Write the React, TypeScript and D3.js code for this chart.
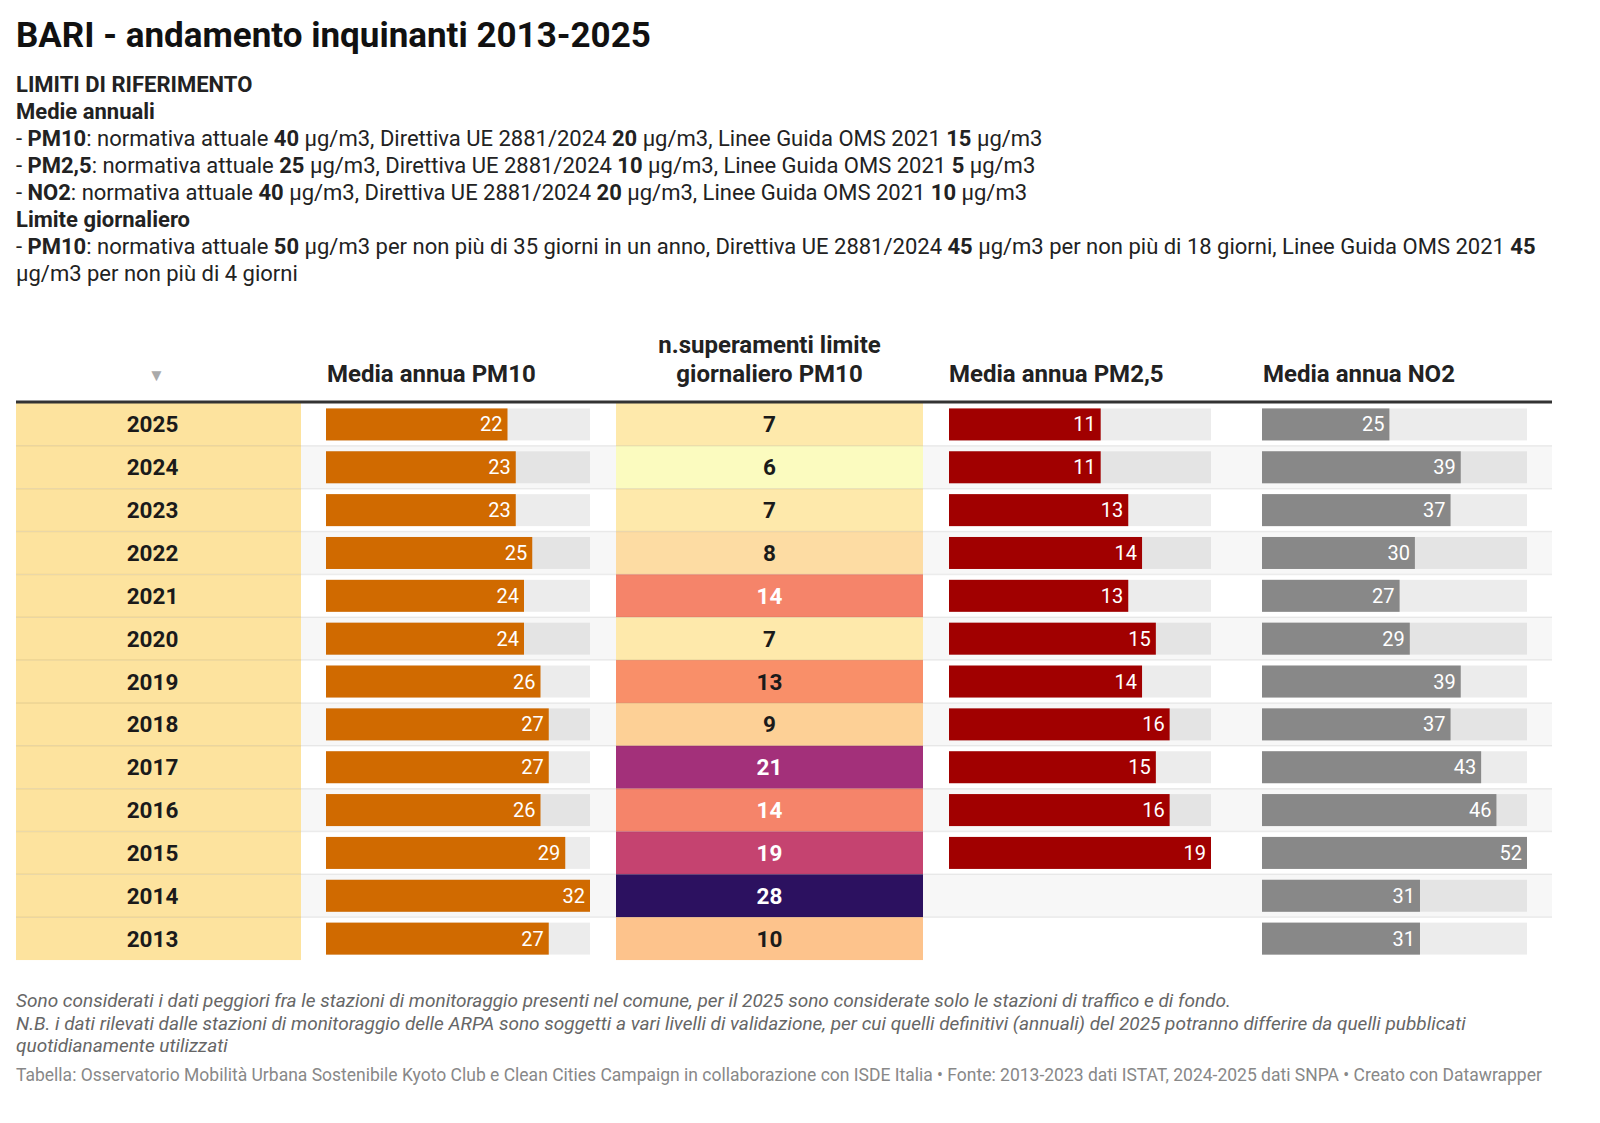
import React from "react";
import * as d3 from "d3";

const years = ["2025","2024","2023","2022","2021","2020","2019","2018","2017","2016","2015","2014","2013"];
const pm10 = [22,23,23,25,24,24,26,27,27,26,29,32,27];
const exceed = [7,6,7,8,14,7,13,9,21,14,19,28,10];
const pm25: (number|null)[] = [11,11,13,14,13,15,14,16,15,16,19,null,null];
const no2 = [25,39,37,30,27,29,39,37,43,46,52,31,31];

const exceedStops = [6,7,8,9,10,13,14,19,21,28];
const exceedColors = ["#fbfbbf","#fee9ab","#fddca3","#fdd096","#fdc38c","#f98f69","#f5846a","#c54370","#a3307a","#2c1160"];

const title = "BARI - andamento inquinanti 2013-2025";
const introLines: [string, boolean][][] = [
  [["LIMITI DI RIFERIMENTO", true]],
  [["Medie annuali", true]],
  [["- ", false],["PM10", true],[": normativa attuale ", false],["40", true],[" µg/m3, Direttiva UE 2881/2024 ", false],["20", true],[" µg/m3, Linee Guida OMS 2021 ", false],["15", true],[" µg/m3", false]],
  [["- ", false],["PM2,5", true],[": normativa attuale ", false],["25", true],[" µg/m3, Direttiva UE 2881/2024 ", false],["10", true],[" µg/m3, Linee Guida OMS 2021 ", false],["5", true],[" µg/m3", false]],
  [["- ", false],["NO2", true],[": normativa attuale ", false],["40", true],[" µg/m3, Direttiva UE 2881/2024 ", false],["20", true],[" µg/m3, Linee Guida OMS 2021 ", false],["10", true],[" µg/m3", false]],
  [["Limite giornaliero", true]],
  [["- ", false],["PM10", true],[": normativa attuale ", false],["50", true],[" µg/m3 per non più di 35 giorni in un anno, Direttiva UE 2881/2024 ", false],["45", true],[" µg/m3 per non più di 18 giorni, Linee Guida OMS 2021 ", false],["45", true]],
  [["µg/m3 per non più di 4 giorni", false]],
];
const headers = ["Media annua PM10", "n.superamenti limite|giornaliero PM10", "Media annua PM2,5", "Media annua NO2"];
const notes = [
  "Sono considerati i dati peggiori fra le stazioni di monitoraggio presenti nel comune, per il 2025 sono considerate solo le stazioni di traffico e di fondo.",
  "N.B. i dati rilevati dalle stazioni di monitoraggio delle ARPA sono soggetti a vari livelli di validazione, per cui quelli definitivi (annuali) del 2025 potranno differire da quelli pubblicati",
  "quotidianamente utilizzati",
];
const credit = "Tabella: Osservatorio Mobilità Urbana Sostenibile Kyoto Club e Clean Cities Campaign in collaborazione con ISDE Italia • Fonte: 2013-2023 dati ISTAT, 2024-2025 dati SNPA • Creato con Datawrapper";

const W = 1600, H = 1123;
const FONT = "Roboto, 'Noto Sans', sans-serif";

export default function App() {
  const y = d3.scaleBand<string>().domain(years).range([403, 403 + 13 * 42.85]).padding(0);
  const rh = y.bandwidth();
  const barH = 32;
  const xPM10 = d3.scaleLinear().domain([0, d3.max(pm10)!]).range([326, 590]);
  const xPM25 = d3.scaleLinear().domain([0, d3.max(pm25.filter(v => v != null) as number[])!]).range([949, 1211]);
  const xNO2 = d3.scaleLinear().domain([0, d3.max(no2)!]).range([1262, 1527]);
  const exColor = d3.scaleLinear<string>().domain(exceedStops).range(exceedColors).interpolate(d3.interpolateRgb);

  const yearX0 = 16, yearX1 = 301, exX0 = 616, exX1 = 923;
  const left = 16, right = 1552;

  const barCol = (x: d3.ScaleLinear<number, number>, vals: (number|null)[], color: string, key: string) =>
    years.map((yr, i) => {
      const v = vals[i];
      if (v == null) return null;
      const top = y(yr)! + (rh - barH) / 2;
      const [r0, r1] = x.range();
      return (
        <g key={key + yr}>
          <rect x={r0} y={top} width={r1 - r0} height={barH} fill="rgba(0,0,0,0.075)" />
          <rect x={r0} y={top} width={x(v) - r0} height={barH} fill={color} />
          <text x={x(v) - 5} y={top + barH / 2 + 7} textAnchor="end" fill="#fff" fontSize={20} fontFamily={FONT}>{v}</text>
        </g>
      );
    });

  return (
    <svg width={W} height={H} style={{ position: "absolute", left: 0, top: 0, background: "#fff" }} fontFamily={FONT}>
      <rect x={0} y={0} width={W} height={H} fill="#fff" />
      <text x={16} y={47} fontSize={35} fontWeight={700} fill="#111">{title}</text>
      {introLines.map((segs, i) => (
        <text key={i} x={16} y={92 + i * 27} fontSize={22} fill="#222">
          {segs.map(([t, b], j) => (
            <tspan key={j} fontWeight={b ? 700 : 400}>{t}</tspan>
          ))}
        </text>
      ))}

      {/* header */}
      <text x={(yearX0 + yearX1) / 2 - 2} y={381} textAnchor="middle" fontSize={17} fill="#aaa">▼</text>
      <text x={327} y={382} fontSize={24} fontWeight={700} fill="#222">{headers[0]}</text>
      {headers[1].split("|").map((t, i) => (
        <text key={i} x={(exX0 + exX1) / 2} y={353 + i * 29} textAnchor="middle" fontSize={24} fontWeight={700} fill="#222">{t}</text>
      ))}
      <text x={949} y={382} fontSize={24} fontWeight={700} fill="#222">{headers[2]}</text>
      <text x={1263} y={382} fontSize={24} fontWeight={700} fill="#222">{headers[3]}</text>

      {/* row stripes */}
      {years.map((yr, i) => (
        <rect key={"s" + yr} x={left} y={y(yr)!} width={right - left} height={rh} fill={i % 2 === 1 ? "#f7f7f7" : "#ffffff"} />
      ))}
      {/* year column */}
      {years.map((yr) => (
        <g key={"y" + yr}>
          <rect x={yearX0} y={y(yr)!} width={yearX1 - yearX0} height={rh} fill="#fde39e" />
          <text x={(yearX0 + yearX1) / 2 - 6} y={y(yr)! + rh / 2 + 8} textAnchor="middle" fontSize={22.5} fontWeight={700} fill="#1a1a1a">{yr}</text>
        </g>
      ))}
      {/* exceedances */}
      {years.map((yr, i) => (
        <g key={"e" + yr}>
          <rect x={exX0} y={y(yr)!} width={exX1 - exX0} height={rh} fill={exColor(exceed[i])} />
          <text x={(exX0 + exX1) / 2} y={y(yr)! + rh / 2 + 8} textAnchor="middle" fontSize={22.5} fontWeight={700} fill={exceed[i] >= 14 ? "#fff" : "#1a1a1a"}>{exceed[i]}</text>
        </g>
      ))}
      {barCol(xPM10, pm10, "#d06a00", "p10")}
      {barCol(xPM25, pm25, "#a10000", "p25")}
      {barCol(xNO2, no2, "#888888", "no2")}

      {/* separators */}
      {years.slice(0, -1).map((yr) => (
        <line key={"l" + yr} x1={left} x2={right} y1={y(yr)! + rh} y2={y(yr)! + rh} stroke="rgba(0,0,0,0.07)" strokeWidth={1.5} />
      ))}
      <line x1={left} x2={right} y1={402} y2={402} stroke="#333" strokeWidth={3} />

      {/* notes */}
      {notes.map((t, i) => (
        <text key={"n" + i} x={16} y={1007 + i * 22.5} fontSize={19} fontStyle="italic" fill="#666">{t}</text>
      ))}
      <text x={16} y={1081} fontSize={17.5} fill="#888">{credit}</text>
    </svg>
  );
}
